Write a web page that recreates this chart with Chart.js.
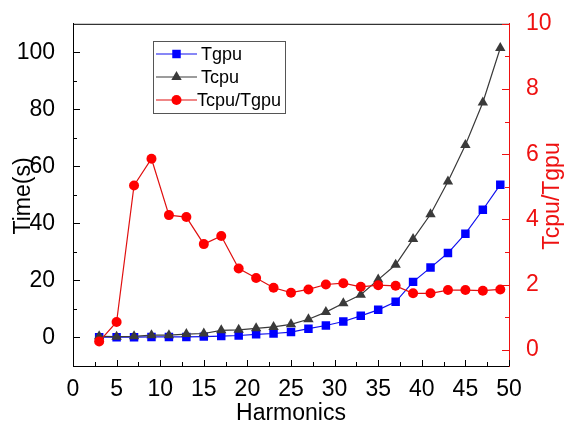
<!DOCTYPE html>
<html><head><meta charset="utf-8">
<script src="https://cdn.jsdelivr.net/npm/chart.js@4"></script>
<style>html,body{margin:0;padding:0;background:#fff}canvas{display:block}</style>
</head><body>
<canvas id="c" width="565" height="428"></canvas>
<script>
const harmonics = [3,5,7,9,11,13,15,17,19,21,23,25,27,29,31,33,35,37,39,41,43,45,47,49];
const tgpu  = [0.1,0.1,0.1,0.2,0.2,0.2,0.3,0.5,0.7,1.1,1.4,1.9,3.1,4.2,5.6,7.6,9.7,12.5,19.5,24.5,29.6,36.4,44.8,53.6];
const tcpu  = [0.4,0.3,0.4,0.8,0.8,1.2,1.4,2.5,2.7,3.2,3.7,4.6,6.4,8.9,12.0,15.0,20.3,25.5,34.5,43.2,54.7,67.5,82.4,101.5];
const ratio = [0.25,0.85,5.04,5.86,4.13,4.07,3.24,3.49,2.49,2.2,1.9,1.75,1.85,2.0,2.04,1.93,1.98,1.96,1.73,1.73,1.83,1.83,1.81,1.85];
const xTicks = [0,5,10,15,20,25,30,35,40,45,50];
const leftTicks = [0,20,40,60,80,100];
const rightTicks = [0,2,4,6,8,10];
const seriesNames = ['Tgpu','Tcpu','Tcpu/Tgpu'];
const xTitle = 'Harmonics', yTitle = 'Time(s)', y2Title = 'Tcpu/Tgpu';

const FONT = '"Liberation Sans", Arial, sans-serif';
const RED = '#ee1111';
const pts = arr => harmonics.map((h, i) => ({x: h, y: arr[i]}));
const mids = a => a.slice(1).map((v, i) => (v + a[i]) / 2);

function marker(ctx, style, x, y, r, color) {
  ctx.save(); ctx.fillStyle = color; ctx.beginPath();
  if (style === 'rect') { const s = r * Math.SQRT1_2; ctx.rect(x - s, y - s, 2 * s, 2 * s); }
  else if (style === 'triangle') {
    ctx.moveTo(x, y - r); ctx.lineTo(x + r * Math.sin(Math.PI*2/3), y - r * Math.cos(Math.PI*2/3));
    ctx.lineTo(x - r * Math.sin(Math.PI*2/3), y - r * Math.cos(Math.PI*2/3)); ctx.closePath();
  } else { ctx.arc(x, y, r, 0, Math.PI * 2); }
  ctx.fill(); ctx.restore();
}

const decor = {
  id: 'decor',
  beforeDatasetsDraw(chart) {
    const {ctx, chartArea: a, scales} = chart;
    ctx.save();
    ctx.lineWidth = 1;
    ctx.strokeStyle = '#000';
    ctx.beginPath(); ctx.moveTo(a.left, a.top + 0.5); ctx.lineTo(a.right, a.top + 0.5); ctx.stroke();
    const hline = (sc, vals, len, x0, dir, color) => {
      ctx.strokeStyle = color; ctx.beginPath();
      vals.forEach(v => { const y = Math.round(sc.getPixelForValue(v)) + 0.5; ctx.moveTo(x0, y); ctx.lineTo(x0 + dir * len, y); });
      ctx.stroke();
    };
    hline(scales.y, leftTicks, 7, a.left, 1, '#000');
    hline(scales.y, mids(leftTicks), 4, a.left, 1, '#000');
    hline(scales.y2, rightTicks, 7, a.right, -1, RED);
    hline(scales.y2, mids(rightTicks), 4, a.right, -1, RED);
    ctx.strokeStyle = '#000'; ctx.beginPath();
    xTicks.forEach(v => { const x = Math.round(scales.x.getPixelForValue(v)) + 0.5; ctx.moveTo(x, a.bottom); ctx.lineTo(x, a.bottom - 6); });
    mids(xTicks).forEach(v => { const x = Math.round(scales.x.getPixelForValue(v)) + 0.5; ctx.moveTo(x, a.bottom); ctx.lineTo(x, a.bottom - 4); });
    ctx.stroke();
    ctx.restore();
  },
  afterDraw(chart) {
    const {ctx, chartArea: a} = chart;
    ctx.save();
    ctx.textAlign = 'center'; ctx.textBaseline = 'middle';
    ctx.font = '23px ' + FONT;
    ctx.fillStyle = '#000';
    ctx.fillText(xTitle, (a.left + a.right) / 2, 414);
    ctx.save(); ctx.translate(24, 196); ctx.rotate(-Math.PI / 2); ctx.fillText(yTitle, 0, 0); ctx.restore();
    ctx.fillStyle = RED;
    ctx.save(); ctx.translate(553, 196); ctx.rotate(-Math.PI / 2); ctx.fillText(y2Title, 0, 0); ctx.restore();
    ctx.strokeStyle = '#555'; ctx.lineWidth = 1;
    ctx.strokeRect(153.5, 41.5, 132, 72);
    const rows = [54, 77, 100];
    ctx.font = '18px ' + FONT; ctx.textAlign = 'left';
    chart.data.datasets.forEach((ds, i) => {
      const y = rows[i];
      ctx.strokeStyle = ds.borderColor; ctx.lineWidth = 1.2;
      ctx.beginPath(); ctx.moveTo(156, y); ctx.lineTo(197, y); ctx.stroke();
      marker(ctx, ds.pointStyle, 176.5, y, ds.pointRadius, ds.pointBackgroundColor);
      ctx.fillStyle = '#000';
      ctx.fillText(ds.label, i === 2 ? 197 : 201, y + 1);
    });
    ctx.restore();
  }
};

new Chart(document.getElementById('c'), {
  type: 'line',
  data: {
    datasets: [
      {label: seriesNames[0], data: pts(tgpu), yAxisID: 'y', borderColor: '#1010ee', backgroundColor: '#0000ff',
       pointBackgroundColor: '#0000ff', pointBorderColor: '#0000ff', pointStyle: 'rect', pointRadius: 6, pointBorderWidth: 0,
       borderWidth: 1.2, order: 2},
      {label: seriesNames[1], data: pts(tcpu), yAxisID: 'y', borderColor: '#3a3a3a', backgroundColor: '#3a3a3a',
       pointBackgroundColor: '#3a3a3a', pointBorderColor: '#3a3a3a', pointStyle: 'triangle', pointRadius: 6, pointBorderWidth: 0,
       borderWidth: 1.2, order: 1},
      {label: seriesNames[2], data: pts(ratio), yAxisID: 'y2', borderColor: '#e01010', backgroundColor: '#ff0000',
       pointBackgroundColor: '#ff0000', pointBorderColor: '#ff0000', pointStyle: 'circle', pointRadius: 5, pointBorderWidth: 0,
       borderWidth: 1.2, order: 0}
    ]
  },
  options: {
    responsive: false, animation: false, devicePixelRatio: 1,
    layout: {padding: {top: 23, left: 0, right: 0, bottom: 0}},
    plugins: {legend: {display: false}, tooltip: {enabled: false}},
    elements: {line: {tension: 0}},
    scales: {
      x: {type: 'linear', position: 'bottom', min: 0, max: 50,
          afterBuildTicks: s => { s.ticks = xTicks.map(v => ({value: v})); },
          afterFit: s => { s.height = 62; },
          grid: {display: false}, border: {display: true, color: '#000', width: 1},
          ticks: {color: '#000', padding: 2, font: {family: FONT, size: 23}, maxRotation: 0, autoSkip: false}},
      y: {type: 'linear', position: 'left', min: -10, max: 110,
          afterBuildTicks: s => { s.ticks = leftTicks.map(v => ({value: v})); },
          afterFit: s => { s.width = 73; },
          grid: {display: false}, border: {display: true, color: '#000', width: 1},
          ticks: {color: '#000', padding: 10, font: {family: FONT, size: 23}}},
      y2: {type: 'linear', position: 'right', min: -0.5, max: 10,
          afterBuildTicks: s => { s.ticks = rightTicks.map(v => ({value: v})); },
          afterFit: s => { s.width = 56; },
          grid: {display: false}, border: {display: true, color: RED, width: 1},
          ticks: {color: RED, padding: 9, font: {family: FONT, size: 23}}}
    }
  },
  plugins: [decor]
});
</script>
</body></html>
